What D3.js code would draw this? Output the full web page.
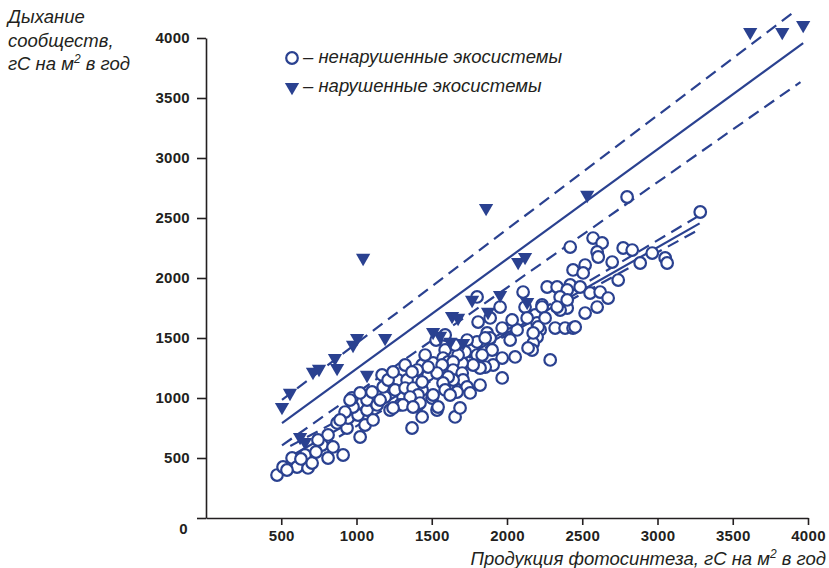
<!DOCTYPE html>
<html>
<head>
<meta charset="utf-8">
<script src="https://cdn.jsdelivr.net/npm/d3@7"></script>
<style>
	body { margin: 0; background: #fff; }
	svg { display: block; font-family: "Liberation Sans", Arial, sans-serif; }
	.axis path, .axis line { stroke: #231f20; stroke-width: 1.6; }
	.axis text { font-size: 15px; font-weight: bold; fill: #231f20; letter-spacing: 0.3px; }
</style>
</head>
<body>
<svg width="829" height="568"></svg>
<script>
// data (gC per m2 per year)...................................................

// undisturbed ecosystems: [production, respiration]
var undisturbed = [
	[472, 358], [512, 425], [572, 500], [605, 425], [658, 525], [678, 417],
	[705, 458], [811, 500], [911, 525], [771, 608], [811, 692], [871, 792],
	[937, 750], [944, 833], [1010, 858], [1024, 675], [977, 925], [1070, 900],
	[1070, 983], [1137, 942], [1190, 1008], [1170, 1192], [1177, 1092],
	[1276, 1150], [1309, 1008], [1356, 1042], [1369, 750], [1376, 1167],
	[1436, 1067], [1436, 1275], [1476, 1192], [1509, 1292], [1502, 1000],
	[1535, 900], [970, 1000], [924, 883], [891, 817], [744, 650], [957, 983],
	[1103, 1050], [1223, 900], [1256, 1067], [1290, 942], [1409, 942],
	[1210, 1150], [2107, 1883], [2120, 1758], [2187, 1692], [2233, 1775],
	[2200, 1625], [2220, 1567], [2200, 1508], [2174, 1458], [2167, 1400],
	[2140, 1417], [2287, 1317], [2320, 1583], [2386, 1583], [2439, 1583],
	[2519, 1708], [2400, 1750], [2353, 1733], [2267, 1925], [2333, 1925],
	[2420, 1942], [2486, 1925], [2552, 1875], [1801, 1842], [1954, 1758],
	[1868, 1542], [1968, 1583], [2067, 1567], [2021, 1483], [2054, 1342],
	[1968, 1333], [1968, 1167], [1888, 1500], [1901, 1400], [1908, 1275],
	[1855, 1258], [1821, 1250], [1768, 1425], [1801, 1358], [1775, 1275],
	[1702, 1292], [1722, 1383], [1675, 1358], [1655, 1442], [1589, 1400],
	[1575, 1333], [1609, 1300], [1642, 1300], [1569, 1275], [1642, 1233],
	[1702, 1208], [1708, 1150], [1642, 1150], [1735, 1092], [1755, 1042],
	[1668, 1050], [1609, 1175], [1575, 1125], [1535, 1208], [1476, 1258],
	[1403, 1233], [1336, 1150], [1323, 1083], [1376, 1083], [1436, 1133],
	[1509, 1025], [1409, 1025], [1356, 1008], [1422, 958], [1309, 942],
	[1376, 925], [1542, 925], [1436, 842], [1655, 842], [1688, 917],
	[1835, 1358], [1801, 1467], [1855, 1500], [2798, 2675], [3284, 2550],
	[2420, 2258], [2572, 2333], [2632, 2292], [2599, 2217], [2606, 2175],
	[2772, 2250], [2832, 2233], [2965, 2208], [3051, 2167], [3064, 2125],
	[2885, 2125], [2739, 1983], [2439, 2067], [2519, 2108], [2506, 2042],
	[2400, 1900], [2619, 1883], [2672, 1833], [2353, 1842], [2400, 1817],
	[2333, 1758], [2453, 1592], [2233, 1758], [2207, 1592], [2174, 1542],
	[1529, 1483], [1589, 1525], [1735, 1483], [1808, 1633], [1157, 983],
	[1243, 1217], [1323, 1275], [1369, 1217], [844, 592], [731, 550],
	[538, 400], [631, 492], [1057, 775], [1110, 817], [1243, 917],
	[1024, 1042], [1589, 1067], [1622, 1025], [1888, 1667], [2034, 1650],
	[2134, 1667], [2253, 1667], [2599, 1758], [2699, 2133], [1821, 1108],
	[1456, 1358]
];

// disturbed ecosystems: [production, respiration]
var disturbed = [
	[505, 925], [558, 1042], [625, 675], [658, 633], [711, 1217], [751, 1242],
	[857, 1333], [871, 1250], [977, 1442], [1004, 1500], [1044, 2167],
	[1070, 1192], [1190, 1500], [1509, 1550], [1555, 1517], [1635, 1683],
	[1675, 1667], [1622, 1467], [1708, 1458], [1768, 1817], [1861, 2583],
	[1874, 1717], [1954, 1858], [2074, 2133], [2120, 2175], [2134, 1800],
	[2533, 2692], [3616, 4050], [3829, 4050], [3968, 4108]
];

// regression lines and their confidence bands
var undisturbedFit = [[560, 513], [3280, 2455]],
	undisturbedUpper = [[560, 600], [1950, 1530], [3270, 2515]],
	undisturbedLower = [[560, 430], [1950, 1490], [3270, 2400]],
	disturbedFit = [[505, 790], [3968, 3958]],
	disturbedUpper = [[505, 985], [3900, 4210]],
	disturbedLower = [[505, 605], [3950, 3633]];

var xTicks = [500, 1000, 1500, 2000, 2500, 3000, 3500, 4000],
	yTicks = [0, 500, 1000, 1500, 2000, 2500, 3000, 3500, 4000];

var legendLabels = ["ненарушенные экосистемы", "нарушенные экосистемы"];

// setup.......................................................................

var svg = d3.select("svg"),
	blue = "#2a4190",
	ink = "#231f20";

var x = d3.scaleLinear().domain([0, 4000]).range([206, 808]),
	y = d3.scaleLinear().domain([0, 4000]).range([518, 38]);

var line = d3.line()
	.x(function(d) { return x(d[0]); })
	.y(function(d) { return y(d[1]); });

var triangle = d3.symbol().type(d3.symbolTriangle).size(88);

// axes........................................................................

var yAxis = svg.append("g")
	.attr("class", "axis")
	.attr("transform", "translate(" + x(0) + ",0)")
	.call(d3.axisLeft(y)
		.tickValues(yTicks)
		.tickSize(9)
		.tickSizeOuter(0)
		.tickPadding(7)
		.tickFormat(d3.format("d")));
// the zero sits a bit lower than the rest
yAxis.selectAll(".tick text")
	.filter(function(d) { return d === 0; })
	.attr("dy", "1.0em")
	.attr("x", -18);

svg.append("g")
	.attr("class", "axis")
	.attr("transform", "translate(0," + y(0) + ")")
	.call(d3.axisBottom(x)
		.tickValues(xTicks)
		.tickSize(7)
		.tickSizeOuter(0)
		.tickPadding(5)
		.tickFormat(d3.format("d")));

svg.selectAll(".axis .domain").attr("stroke", ink);

// axis titles
var yTitle = svg.append("text")
	.attr("font-size", 18.5)
	.attr("font-style", "italic")
	.attr("fill", ink);
yTitle.append("tspan").attr("x", 8).attr("y", 23).text("Дыхание");
yTitle.append("tspan").attr("x", 8).attr("y", 47).text("сообществ,");
yTitle.append("tspan").attr("x", 8).attr("y", 70).text("гС на м");
yTitle.append("tspan").attr("font-size", 12).attr("dy", -7).text("2");
yTitle.append("tspan").attr("dy", 7).text(" в год");

var xTitle = svg.append("text")
	.attr("x", 826)
	.attr("y", 565)
	.attr("text-anchor", "end")
	.attr("font-size", 18.5)
	.attr("font-style", "italic")
	.attr("fill", ink);
xTitle.append("tspan").text("Продукция фотосинтеза, гС на м");
xTitle.append("tspan").attr("font-size", 12).attr("dy", -7).text("2");
xTitle.append("tspan").attr("dy", 7).text(" в год");

// regression lines............................................................

var lines = svg.append("g")
	.attr("fill", "none")
	.attr("stroke", blue)
	.attr("stroke-width", 2.2);

[undisturbedFit, disturbedFit].forEach(function(d) {
	lines.append("path").attr("d", line(d));
});
[undisturbedUpper, undisturbedLower, disturbedUpper, disturbedLower]
	.forEach(function(d) {
		lines.append("path")
			.attr("d", line(d))
			.attr("stroke-dasharray", "12,7");
	});

// points......................................................................

svg.append("g").attr("class", "sites")
	.selectAll("circle")
	.data(undisturbed)
	.enter().append("circle")
		.attr("cx", function(d) { return x(d[0]); })
		.attr("cy", function(d) { return y(d[1]); })
		.attr("r", 5.8)
		.attr("fill", "#fff")
		.attr("stroke", blue)
		.attr("stroke-width", 2.2);

svg.append("g").attr("class", "disturbed")
	.selectAll("path")
	.data(disturbed)
	.enter().append("path")
		.attr("d", triangle)
		.attr("transform", function(d) {
			return "translate(" + x(d[0]) + "," + y(d[1]) + ") rotate(180)";
		})
		.attr("fill", blue);

// legend......................................................................

var legend = svg.append("g")
	.attr("font-size", 18.5)
	.attr("font-style", "italic")
	.attr("fill", ink);

legend.append("circle")
	.attr("cx", 292).attr("cy", 58).attr("r", 5.8)
	.attr("fill", "#fff").attr("stroke", blue).attr("stroke-width", 2.2);
legend.append("path")
	.attr("d", triangle)
	.attr("transform", "translate(292,87) rotate(180)")
	.attr("fill", blue);

legend.selectAll("text")
	.data(legendLabels)
	.enter().append("text")
		.attr("x", 303)
		.attr("y", function(d, i) { return 63 + i * 29; })
		.text(function(d) { return "–  " + d; });
</script>
</body>
</html>
